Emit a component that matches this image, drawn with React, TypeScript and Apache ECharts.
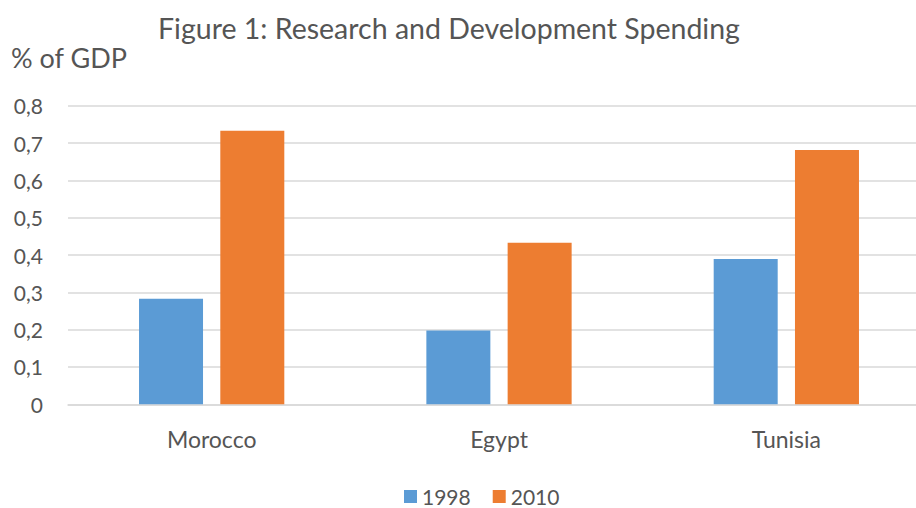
import React, { useEffect, useRef } from "react";
import * as echarts from "echarts";

const categories = ["Morocco", "Egypt", "Tunisia"];
const values1998 = [0.283, 0.198, 0.389];
const values2010 = [0.733, 0.433, 0.681];
const seriesNames = ["1998", "2010"];
const titleText = "Figure 1: Research and Development Spending";
const yAxisTitle = "% of GDP";

const FONT = "Lato, 'Open Sans', sans-serif";
const TXT = "#555555";

export default function App() {
  const ref = useRef<HTMLDivElement>(null);
  useEffect(() => {
    if (!ref.current) return;
    const chart = echarts.init(ref.current, undefined, { renderer: "svg" });
    chart.setOption({
      animation: false,
      backgroundColor: "#ffffff",
      title: {
        text: titleText,
        left: 444,
        top: 8,
        textAlign: "center",
        textStyle: { fontFamily: FONT, fontSize: 28.5, fontWeight: "normal", color: TXT },
      },
      graphic: [
        {
          type: "text",
          left: 11,
          top: 44,
          style: { text: yAxisTitle, fontFamily: FONT, fontSize: 27, fill: TXT },
        },
      ],
      legend: {
        data: seriesNames,
        top: 486,
        left: 404,
        padding: 0,
        itemWidth: 13,
        itemHeight: 13,
        itemGap: 22,
        icon: "rect",
        textStyle: { fontFamily: FONT, fontSize: 21, color: TXT },
      },
      grid: { left: 68, right: 0, top: 105.7, bottom: 103.7, containLabel: false },
      xAxis: {
        type: "category",
        data: categories,
        axisLine: { show: true, lineStyle: { color: "#D9D9D9", width: 1.5 } },
        axisTick: { show: false },
        axisLabel: { fontFamily: FONT, fontSize: 23, color: TXT, margin: 23 },
      },
      yAxis: {
        type: "value",
        min: 0,
        max: 0.8,
        interval: 0.1,
        axisLine: { show: false },
        axisTick: { show: false },
        splitLine: { lineStyle: { color: "#D9D9D9", width: 1.5 } },
        axisLabel: {
          fontFamily: FONT,
          fontSize: 21,
          color: TXT,
          margin: 25,
          formatter: (v: number) => (v === 0 ? "0" : v.toFixed(1).replace(".", ",")),
        },
      },
      series: [
        {
          name: seriesNames[0],
          type: "bar",
          data: values1998,
          barWidth: 64,
          barGap: "27%",
          itemStyle: { color: "#5B9BD5" },
        },
        {
          name: seriesNames[1],
          type: "bar",
          data: values2010,
          barWidth: 64,
          barGap: "27%",
          itemStyle: { color: "#ED7D31" },
        },
      ],
    });
    return () => chart.dispose();
  }, []);
  return (
    <div style={{ position: "fixed", left: 0, top: 0, width: 916, height: 508, overflow: "hidden", background: "#fff" }}>
      <div ref={ref} style={{ width: 930, height: 508 }} />
    </div>
  );
}
